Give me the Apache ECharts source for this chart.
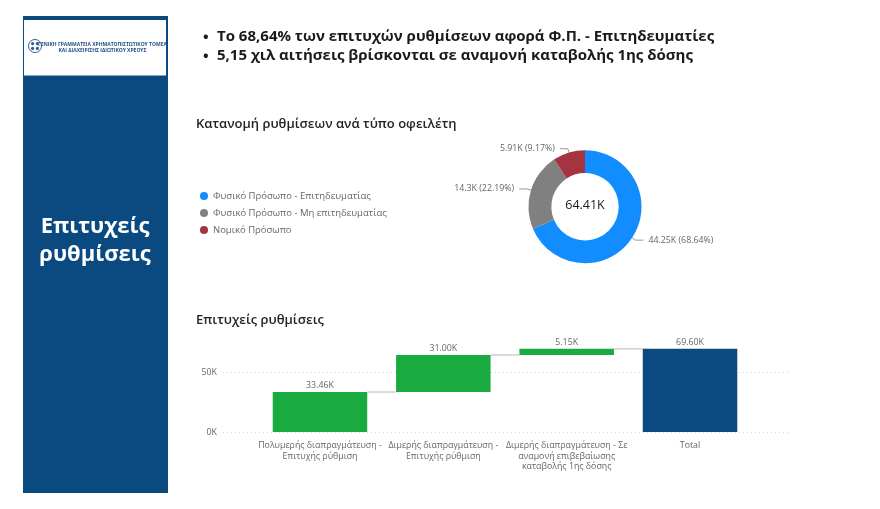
<!DOCTYPE html>
<html>
<head>
<meta charset="utf-8">
<style>html,body{margin:0;padding:0;background:#fff}#c{width:880px;height:509px}</style>
<script src="https://cdn.jsdelivr.net/npm/echarts@6/dist/echarts.min.js"></script>
</head>
<body>
<div id="c"></div>
<script>
// Debtor-type split
const debtorTypes = ['Φυσικό Πρόσωπο - Επιτηδευματίας', 'Φυσικό Πρόσωπο - Μη επιτηδευματίας', 'Νομικό Πρόσωπο'];
const debtorValues = [44.25, 14.3, 5.91];
const debtorPercents = ['68.64', '22.19', '9.17'];
const debtorColors = ['#118DFF', '#808080', '#A4343F'];
const debtorTotal = '64.41K';

// Settlement waterfall
const stepLabels = [
  'Πολυμερής διαπραγμάτευση -\nΕπιτυχής ρύθμιση',
  'Διμερής διαπραγμάτευση -\nΕπιτυχής ρύθμιση',
  'Διμερής διαπραγμάτευση - Σε\nαναμονή επιβεβαίωσης\nκαταβολής 1ης δόσης',
  'Total'
];
const stepValues = [33.46, 31.00, 5.15, 69.60];
const stepBases = [0, 33.46, 64.46, 0];
const stepLevels = [33.46, 64.46, 69.60];
const stepColors = ['#1AAB40', '#1AAB40', '#1AAB40', '#0B4A80'];
const yTicks = { min: 0, max: 100, interval: 50 };

const headlines = [
  'Το 68,64% των επιτυχών ρυθμίσεων αφορά Φ.Π. - Επιτηδευματίες',
  '5,15 χιλ αιτήσεις βρίσκονται σε αναμονή καταβολής 1ης δόσης'
];

const FONT = '"Open Sans", "Noto Sans", sans-serif';
const INK = '#1a1a1a';
const MUTED = '#666666';
const NAVY = '#0B4A80';

const chart = echarts.init(document.getElementById('c'), null, { renderer: 'canvas' });

function text(x, y, str, size, weight, color, align) {
  return {
    type: 'text', x, y, silent: true,
    style: { text: str, font: `${weight} ${size}px ${FONT}`, fill: color, align: align || 'left', verticalAlign: 'middle' }
  };
}

chart.setOption({
  animation: false,
  backgroundColor: '#ffffff',
  graphic: [
    // Side panel with the issuer's letterhead
    { type: 'rect', shape: { x: 23, y: 16, width: 145, height: 477 }, style: { fill: NAVY }, z: 0 },
    { type: 'rect', shape: { x: 24, y: 20, width: 142, height: 55.5 }, style: { fill: '#ffffff' }, z: 1 },
    { type: 'circle', shape: { cx: 35, cy: 46, r: 6.5 }, style: { fill: '#ffffff', stroke: '#2f5f94', lineWidth: 1 }, z: 2 },
    { type: 'rect', shape: { x: 33.8, y: 40, width: 2.4, height: 12 }, style: { fill: '#ffffff' }, z: 3 },
    { type: 'circle', shape: { cx: 32.6, cy: 43.6, r: 1.6 }, style: { fill: '#2f5f94' }, z: 3 },
    { type: 'circle', shape: { cx: 37.4, cy: 43.6, r: 1.6 }, style: { fill: '#2f5f94' }, z: 3 },
    { type: 'circle', shape: { cx: 32.6, cy: 48.4, r: 1.6 }, style: { fill: '#2f5f94' }, z: 3 },
    { type: 'circle', shape: { cx: 37.4, cy: 48.4, r: 1.6 }, style: { fill: '#2f5f94' }, z: 3 },
    Object.assign(text(102.5, 44.5, 'ΓΕΝΙΚΗ ΓΡΑΜΜΑΤΕΙΑ ΧΡΗΜΑΤΟΠΙΣΤΩΤΙΚΟΥ ΤΟΜΕΑ', 5, 700, '#1f4e85', 'center'), { z: 3 }),
    Object.assign(text(102.5, 50.5, 'ΚΑΙ ΔΙΑΧΕΙΡΙΣΗΣ ΙΔΙΩΤΙΚΟΥ ΧΡΕΟΥΣ', 5, 700, '#1f4e85', 'center'), { z: 3 }),
    Object.assign(text(95, 227, 'Επιτυχείς', 22, 700, '#ffffff', 'center'), { z: 3 }),
    Object.assign(text(95, 255, 'ρυθμίσεις', 22, 700, '#ffffff', 'center'), { z: 3 }),
    // Key findings
    text(203, 37.5, '•', 15, 700, INK),
    text(217, 37, headlines[0], 15, 700, INK),
    text(203, 56.5, '•', 15, 700, INK),
    text(217, 56, headlines[1], 15, 700, INK),
    // Section headings
    text(196, 124, 'Κατανομή ρυθμίσεων ανά τύπο οφειλέτη', 13, 600, '#252423'),
    text(196, 320, 'Επιτυχείς ρυθμίσεις', 13, 600, '#252423'),
    // Donut total
    Object.assign(text(585, 205.5, debtorTotal, 12.5, 500, INK, 'center'), { z: 10 })
  ],
  legend: {
    orient: 'vertical', left: 195, top: 185, itemWidth: 8, itemHeight: 8, itemGap: 5, icon: 'circle',
    data: debtorTypes, selectedMode: false,
    textStyle: { fontFamily: FONT, fontSize: 9.5, color: MUTED, lineHeight: 12 }
  },
  grid: [
    { left: 223, width: 567, top: 312.5, height: 119.5 },
    { left: 258.3, width: 493.4, top: 312.5, height: 119.5 }
  ],
  xAxis: [
    { gridIndex: 0, type: 'category', data: stepLabels, show: false },
    {
      gridIndex: 1, type: 'category', data: stepLabels,
      axisLine: { show: false }, axisTick: { show: false },
      axisLabel: { interval: 0, margin: 8, fontFamily: FONT, fontSize: 8.8, lineHeight: 10.7, color: MUTED }
    }
  ],
  yAxis: [
    {
      gridIndex: 0, type: 'value', min: yTicks.min, max: yTicks.max, interval: yTicks.interval,
      axisLine: { show: false }, axisTick: { show: false },
      axisLabel: { margin: 6, showMaxLabel: false, fontFamily: FONT, fontSize: 8.8, color: MUTED, formatter: v => v + 'K' },
      splitLine: { showMaxLine: false, lineStyle: { color: '#d9d9d9', type: [1, 3], width: 1 } }
    },
    { gridIndex: 1, type: 'value', min: yTicks.min, max: yTicks.max, interval: yTicks.interval, show: false }
  ],
  series: [
    {
      type: 'pie', center: [585, 206.7], radius: [33.7, 56.5], startAngle: 90, clockwise: true,
      avoidLabelOverlap: false,
      data: debtorTypes.map((name, i) => ({ name, value: debtorValues[i], itemStyle: { color: debtorColors[i] } })),
      label: {
        fontFamily: FONT, fontSize: 8.8, color: MUTED,
        formatter: p => `${debtorValues[p.dataIndex]}K (${debtorPercents[p.dataIndex]}%)`
      },
      labelLine: { length: 4, length2: 8, lineStyle: { color: '#999999', width: 1 } },
      emphasis: { disabled: true }
    },
    {
      type: 'custom', xAxisIndex: 1, yAxisIndex: 1, coordinateSystem: 'cartesian2d', z: 1, silent: true,
      data: stepLevels.map((v, i) => [i, v]),
      renderItem: (params, api) => {
        const idx = api.value(0), lvl = api.value(1);
        const half = 94.5 / 2;
        const a = api.coord([idx, lvl]), b = api.coord([idx + 1, lvl]);
        return {
          type: 'line',
          shape: { x1: a[0] + half, y1: a[1], x2: b[0] - half, y2: b[1] },
          style: { stroke: '#cfcfcf', lineWidth: 1.5 }
        };
      }
    },
    {
      type: 'bar', xAxisIndex: 1, yAxisIndex: 1, stack: 'w', barWidth: 94.5, silent: true,
      itemStyle: { color: 'transparent' }, data: stepBases
    },
    {
      type: 'bar', xAxisIndex: 1, yAxisIndex: 1, stack: 'w', barWidth: 94.5, silent: true,
      data: stepValues.map((v, i) => ({ value: v, itemStyle: { color: stepColors[i] } })),
      label: {
        show: true, position: 'top', distance: 2, fontFamily: FONT, fontSize: 8.8, color: MUTED,
        formatter: p => stepValues[p.dataIndex].toFixed(2) + 'K'
      }
    }
  ]
});
</script>
</body>
</html>
